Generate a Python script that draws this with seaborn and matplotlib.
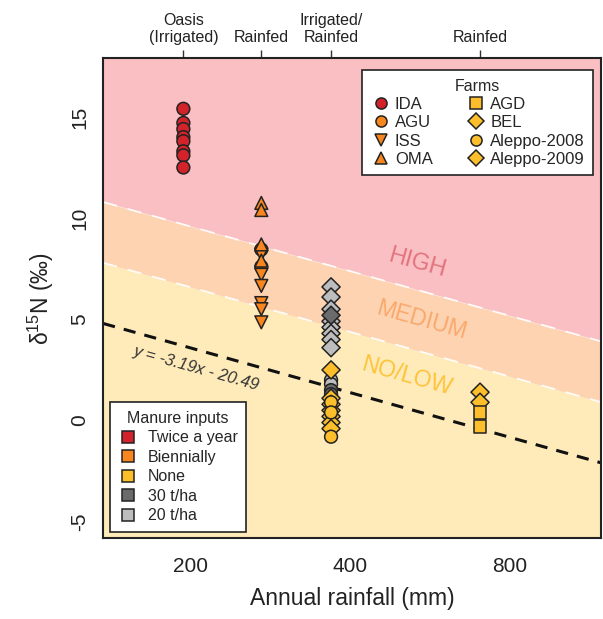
import numpy as np
import pandas as pd
import seaborn as sns
import matplotlib.pyplot as plt
from matplotlib.lines import Line2D

sns.set_style("white")
plt.rcParams['font.family'] = ['Liberation Sans', 'DejaVu Sans']
plt.rcParams['mathtext.default'] = 'regular'

# rainfall (mm) of each site
site_rain = {'oasis': 194, 'rainfed1': 272, 'aleppo': 368, 'rainfed2': 702}
site_labels = ['Oasis\n(Irrigated)', 'Rainfed', 'Irrigated/\nRainfed', 'Rainfed']

# d15N values per farm and manure input
ida = [15.4, 14.7, 14.4, 14.0, 13.8, 13.3, 13.1, 12.5]
agu = [8.45, 7.6]
iss = [8.2, 7.2, 6.65, 5.8, 5.5, 4.85]
oma = [10.75, 10.4, 8.7, 7.9]
a09_20t = [6.6, 6.1, 5.5, 4.9, 4.6, 4.3, 4.0, 3.6]
a09_30t = [5.2]
a08_20t = [2.0, 1.8]
a08_30t = [1.5, 1.3]
a09_none = [2.5, 1.1, 0.8, 0.5, 0.2, -0.1, -0.4]
a08_none = [0.9, 0.4, -0.8]
bel = [1.4, 0.9]
agd = [0.4, -0.3]

# regression: y = slope*ln(x) + intercept, class boundaries above it
reg_slope = -3.19
reg_icpt = 20.49
band_offsets = [3, 6]

groups = [
    ('IDA', 'Twice a year', 'oasis', ida),
    ('AGU', 'Biennially', 'rainfed1', agu),
    ('ISS', 'Biennially', 'rainfed1', iss),
    ('OMA', 'Biennially', 'rainfed1', oma),
    ('Aleppo-2009', '20 t/ha', 'aleppo', a09_20t),
    ('Aleppo-2009', '30 t/ha', 'aleppo', a09_30t),
    ('Aleppo-2008', '20 t/ha', 'aleppo', a08_20t),
    ('Aleppo-2008', '30 t/ha', 'aleppo', a08_30t),
    ('Aleppo-2009', 'None', 'aleppo', a09_none),
    ('Aleppo-2008', 'None', 'aleppo', a08_none),
    ('BEL', 'None', 'rainfed2', bel),
    ('AGD', 'None', 'rainfed2', agd),
]
rows = []
for farm, man, site, vals in groups:
    for v in vals:
        rows.append({'farm': farm, 'manure': man, 'rain': site_rain[site], 'd15N': v})
df = pd.DataFrame(rows)

manure_cols = {'Twice a year': '#D2232A', 'Biennially': '#F7861F', 'None': '#FDBE2C',
               '30 t/ha': '#6B6B6B', '20 t/ha': '#BDBDBD'}
farm_marks = {'IDA': 'o', 'AGU': 'o', 'ISS': 'v', 'OMA': '^', 'AGD': 's',
              'BEL': 'D', 'Aleppo-2008': 'o', 'Aleppo-2009': 'D'}
farm_legend_col = {'IDA': 'Twice a year', 'AGU': 'Biennially', 'ISS': 'Biennially',
                   'OMA': 'Biennially', 'AGD': 'None', 'BEL': 'None',
                   'Aleppo-2008': 'None', 'Aleppo-2009': 'None'}

fig = plt.figure(figsize=(6.03, 6.19), dpi=100)
ax = fig.add_axes([0.171, 0.131, 0.826, 0.775])
ax.set_xscale('log')
xlim = (137, 1187)
ylim = (-5.8, 17.9)

xs = np.geomspace(xlim[0], xlim[1], 200)
reg = reg_slope * np.log(xs) + reg_icpt
ax.fill_between(xs, -20, reg + band_offsets[0], color='#FEEBB9', lw=0, zorder=0)
ax.fill_between(xs, reg + band_offsets[0], reg + band_offsets[1], color='#FDD3B1', lw=0, zorder=0)
ax.fill_between(xs, reg + band_offsets[1], 40, color='#FABFC3', lw=0, zorder=0)
for off in band_offsets:
    ax.plot(xs, reg + off, color='white', lw=1.3, dashes=(8, 6), alpha=0.9, zorder=1)
ax.plot(xs, reg, color='#111111', lw=2.2, dashes=(4, 3), zorder=1)

sns.scatterplot(data=df, x='rain', y='d15N', hue='manure', style='farm',
                palette=manure_cols, markers=farm_marks, s=85,
                edgecolor='#222222', linewidth=1.1, legend=False, ax=ax, zorder=3)

ax.set_xlim(*xlim)
ax.set_ylim(*ylim)

def angle_at(x):
    p1 = ax.transData.transform((x, reg_slope * np.log(x) + reg_icpt))
    p2 = ax.transData.transform((x * 1.2, reg_slope * np.log(x * 1.2) + reg_icpt))
    return np.degrees(np.arctan2(p2[1] - p1[1], p2[0] - p1[0]))

ang = angle_at(400)
ax.text(535, 7.75, 'HIGH', color='#E2747E', fontsize=17, rotation=ang,
        ha='center', va='center', rotation_mode='anchor', zorder=2)
ax.text(544, 4.95, 'MEDIUM', color='#F9A96C', fontsize=16.5, rotation=ang,
        ha='center', va='center', rotation_mode='anchor', zorder=2)
ax.text(510, 2.2, 'NO/LOW', color='#FDC43A', fontsize=16.5, rotation=ang,
        ha='center', va='center', rotation_mode='anchor', zorder=2)
ax.text(205, 2.6, 'y = -3.19x - 20.49', color='#333333', fontsize=12,
        style='italic', rotation=ang, ha='center', va='center',
        rotation_mode='anchor', zorder=2)

ax.set_xticks([200, 400, 800])
ax.set_xticklabels(['200', '400', '800'])
ax.xaxis.set_minor_locator(plt.NullLocator())
ax.set_yticks([-5, 0, 5, 10, 15])
ax.set_yticklabels(['-5', '0', '5', '10', '15'], rotation=90, va='center')
ax.tick_params(axis='both', direction='out', length=6, width=1, labelsize=15,
               color='#333333', labelcolor='#222222', pad=4)
ax.tick_params(axis='x', pad=8)
ax.set_xlabel('Annual rainfall (mm)', fontsize=16.5, color='#222222', labelpad=8)
ax.set_ylabel('$\\delta^{15}$N (‰)', fontsize=16.5, color='#222222', labelpad=10)
for sp in ax.spines.values():
    sp.set_linewidth(1.5)
    sp.set_color('#222222')

top = ax.secondary_xaxis('top')
top.set_xticks(list(site_rain.values()))
top.set_xticklabels(site_labels)
top.xaxis.set_minor_locator(plt.NullLocator())
top.tick_params(direction='out', length=6, width=1, labelsize=11.5, color='#333333',
                labelcolor='#222222')
top.spines['top'].set_visible(False)

farm_handles = [Line2D([], [], marker=farm_marks[f], ls='', markersize=8,
                       markerfacecolor=manure_cols[farm_legend_col[f]],
                       markeredgecolor='#222222', markeredgewidth=1.1, label=f)
                for f in ['IDA', 'AGU', 'ISS', 'OMA', 'AGD', 'BEL', 'Aleppo-2008', 'Aleppo-2009']]
leg1 = ax.legend(handles=farm_handles, title='Farms', ncol=2, loc='upper right',
                 bbox_to_anchor=(0.984, 0.975), borderaxespad=0,
                 fontsize=12, title_fontsize=11.5,
                 frameon=True, fancybox=False, edgecolor='#222222', framealpha=1,
                 handletextpad=0.25, columnspacing=2.0, labelspacing=0.2,
                 handlelength=1.2, borderpad=0.5)
leg1.get_frame().set_linewidth(1.2)
ax.add_artist(leg1)

man_handles = [Line2D([], [], marker='s', ls='', markersize=8.5,
                      markerfacecolor=manure_cols[m], markeredgecolor='#222222',
                      markeredgewidth=1.1, label=m) for m in manure_cols]
leg2 = ax.legend(handles=man_handles, title='Manure inputs', loc='lower left',
                 bbox_to_anchor=(0.014, 0.0125), borderaxespad=0,
                 fontsize=11.5, title_fontsize=11.5,
                 frameon=True, fancybox=False, edgecolor='#222222', framealpha=1,
                 handletextpad=0.6, labelspacing=0.28, handlelength=1.2, borderpad=0.55)
leg2.get_frame().set_linewidth(1.2)

fig.savefig('out.png', dpi=100, facecolor='white')
